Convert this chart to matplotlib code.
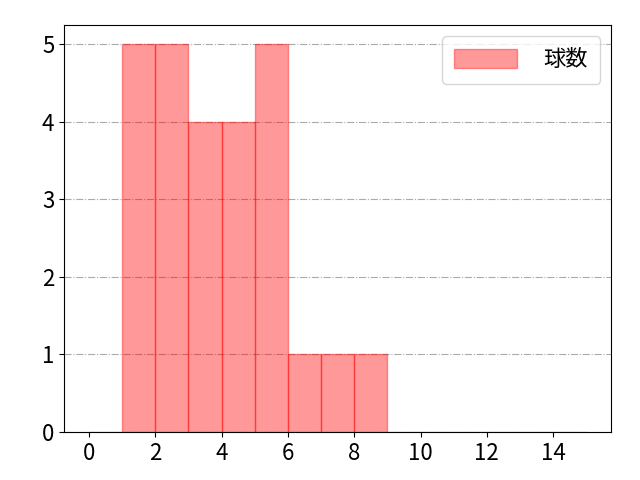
import matplotlib
matplotlib.use("Agg")
import matplotlib.pyplot as plt
import numpy as np

plt.rcParams["font.family"] = ["Noto Sans CJK JP", "DejaVu Sans"]

bin_edges = list(range(0, 16))
counts = [0, 5, 5, 4, 4, 5, 1, 1, 1, 0, 0, 0, 0, 0, 0]
label = "球数"

fig, ax = plt.subplots(figsize=(6.4, 4.8), dpi=100)
ax.hist(bin_edges[:-1], bins=bin_edges, weights=counts,
        color="red", alpha=0.4, edgecolor="red", linewidth=1, label=label)

ax.set_xticks(np.arange(0, 15, 2))
ax.yaxis.grid(True, color="#aaaaaa", linestyle="-.", linewidth=0.8)
ax.set_axisbelow(True)
ax.tick_params(labelsize=16)
ax.legend(fontsize=16, loc="upper right", handlelength=2.8,
          handleheight=0.9, borderpad=0.55, handletextpad=1.2)

fig.subplots_adjust(left=0.1, right=0.955, top=0.948, bottom=0.1)
plt.savefig("out.png", dpi=100)
plt.close()
